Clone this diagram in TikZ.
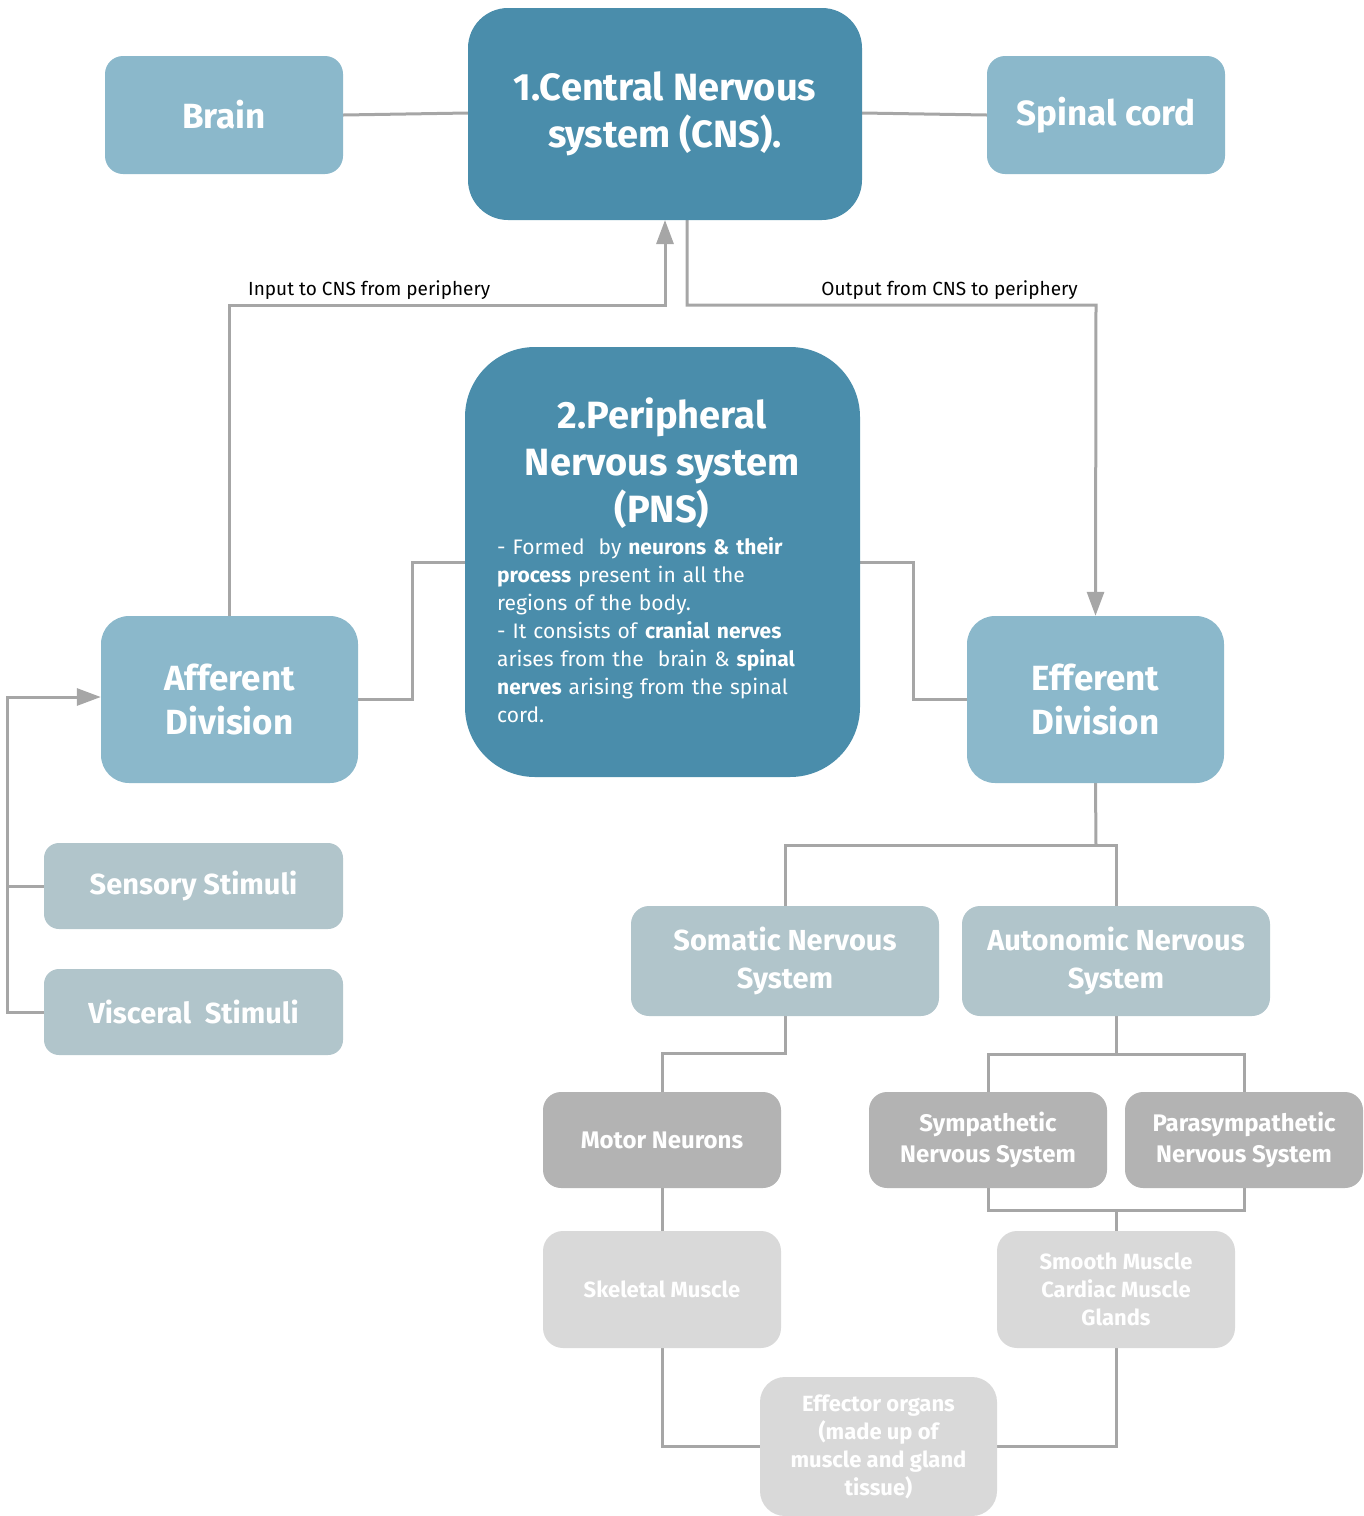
\documentclass[tikz,border=0pt]{standalone}
\usepackage{fontspec}
\setmainfont{Fira Sans}
\usetikzlibrary{arrows.meta,calc}
\pgfdeclarelayer{bg}
\pgfsetlayers{bg,main}
\definecolor{cdark}{HTML}{4A8DAB}
\definecolor{clight}{HTML}{8BB8CB}
\definecolor{cgblue}{HTML}{B1C5CB}
\definecolor{cgray}{HTML}{B3B3B3}
\definecolor{cpale}{HTML}{D9D9D9}
\definecolor{cline}{HTML}{A6A6A6}
\newcommand\fsz[2]{\fontsize{#1pt}{#2pt}\selectfont}
\tikzset{
  box/.style={draw=none, text=white, align=center, inner sep=0pt},
  conn/.style={draw=cline, line width=3pt},
  tip/.style={-{Triangle[length=24pt,width=17pt]}},
  lbl/.style={font=\fsz{19}{24}, text=black, inner sep=0pt}
}
\begin{document}
\begin{tikzpicture}[x=1pt,y=-1pt]
\useasboundingbox (0,0) rectangle (1364,1516);
% top row
\node[box, fill=clight, minimum width=238pt, minimum height=118pt, rounded corners=18pt, font=\bfseries\fsz{35}{43}] (brain) at (224,115) {Brain};
\node[box, fill=cdark, minimum width=394pt, minimum height=212pt, rounded corners=40pt, font=\bfseries\fsz{38}{47}] (cns) at (665,114) {1.Central Nervous\\system (CNS).};
\node[box, fill=clight, minimum width=238pt, minimum height=118pt, rounded corners=18pt, font=\bfseries\fsz{35}{43}] (spinal) at (1106,115) {Spinal cord};
% PNS
\node[box, fill=cdark, minimum width=395pt, minimum height=430pt, rounded corners=70pt] (pns) at (662.5,562) {};
\node[box, font=\bfseries\fsz{38}{47}] (pnstitle) at (662,463) {2.Peripheral\\Nervous system\\(PNS)};
\node[box, anchor=north west, align=left, text width=345pt, font=\fsz{21}{28}] (pnsbody) at (497,537) {- Formed\ \ by \textbf{neurons \& their}\\\textbf{process} present in all the\\regions of the body.\\- It consists of \textbf{cranial nerves}\\arises from the\ \ brain \& \textbf{spinal}\\\textbf{nerves} arising from the spinal\\cord.};
% divisions
\node[box, fill=clight, minimum width=257pt, minimum height=167pt, rounded corners=28pt, font=\bfseries\fsz{35}{44}] (aff) at (229.5,699.5) {Afferent\\Division};
\node[box, fill=clight, minimum width=257pt, minimum height=167pt, rounded corners=28pt, font=\bfseries\fsz{35}{44}] (eff) at (1095.5,699.5) {Efferent\\Division};
% stimuli
\node[box, fill=cgblue, minimum width=299pt, minimum height=86pt, rounded corners=15pt, font=\bfseries\fsz{29}{36}] (sens) at (193.5,886) {Sensory Stimuli};
\node[box, fill=cgblue, minimum width=299pt, minimum height=86pt, rounded corners=15pt, font=\bfseries\fsz{29}{36}] (visc) at (193.5,1012) {Visceral\ \ Stimuli};
% somatic / autonomic
\node[box, fill=cgblue, minimum width=308pt, minimum height=110pt, rounded corners=18pt, font=\bfseries\fsz{29}{38}] (som) at (785,961) {Somatic Nervous\\System};
\node[box, fill=cgblue, minimum width=308pt, minimum height=110pt, rounded corners=18pt, font=\bfseries\fsz{29}{38}] (aut) at (1116,961) {Autonomic Nervous\\System};
% neurons
\node[box, fill=cgray, minimum width=238pt, minimum height=96pt, rounded corners=18pt, font=\bfseries\fsz{24}{31}] (motor) at (662,1140) {Motor Neurons};
\node[box, fill=cgray, minimum width=238pt, minimum height=96pt, rounded corners=18pt, font=\bfseries\fsz{24}{31}] (symp) at (988,1140) {Sympathetic\\Nervous System};
\node[box, fill=cgray, minimum width=238pt, minimum height=96pt, rounded corners=18pt, font=\bfseries\fsz{24}{31}] (para) at (1244,1140) {Parasympathetic\\Nervous System};
% effectors
\node[box, fill=cpale, minimum width=238pt, minimum height=117pt, rounded corners=20pt, font=\bfseries\fsz{22}{28}] (skel) at (662,1289.5) {Skeletal Muscle};
\node[box, fill=cpale, minimum width=238pt, minimum height=117pt, rounded corners=20pt, font=\bfseries\fsz{22}{28}] (smooth) at (1116,1289.5) {Smooth Muscle\\Cardiac Muscle\\Glands};
\node[box, fill=cpale, minimum width=237pt, minimum height=139pt, rounded corners=25pt, font=\bfseries\fsz{22}{28}] (effo) at (878.5,1446.5) {Effector organs\\(made up of\\muscle and gland\\tissue)};
% labels
\node[lbl, anchor=base west] (inlbl) at (248,295) {Input to CNS from periphery};
\node[lbl, anchor=base east] (outlbl) at (1078,295) {Output from CNS to periphery};
% connectors
\begin{pgfonlayer}{bg}
\draw[conn] (brain.east) -- (cns.west |- 0,113);
\draw[conn] (cns.east |- 0,113) -- (spinal.west);
\draw[conn, tip] (aff.north) |- (665,305) -- (665,220);
\coordinate (cnsout) at (687,220);
\draw[conn, tip] (cnsout) |- (1096,305) -- (eff.north);
\draw[conn] (pns.west |- 0,562) -- (412,562) |- (aff.east);
\draw[conn] (pns.east |- 0,562) -- (913,562) |- (eff.west);
\coordinate (lrail) at (7,1012);
\draw[conn, tip] (visc.west) -- (lrail) |- (aff.west |- 0,697);
\draw[conn] (sens.west) -- (7,886);
\draw[conn] (eff.south) -- (1096,845);
\draw[conn] (som.north) |- (aut.north |- 0,845) -- (aut.north);
\draw[conn] (som.south) |- (motor.north |- 0,1053) -- (motor.north);
\draw[conn] (aut.south) -- (1116,1054);
\draw[conn] (symp.north) |- (para.north |- 0,1054) -- (para.north);
\draw[conn] (symp.south) |- (para.south |- 0,1210) -- (para.south);
\draw[conn] (1116,1210) -- (smooth.north);
\draw[conn] (motor.south) -- (skel.north);
\draw[conn] (skel.south) |- (effo.west);
\draw[conn] (smooth.south) |- (effo.east);
\end{pgfonlayer}
\end{tikzpicture}
\end{document}
